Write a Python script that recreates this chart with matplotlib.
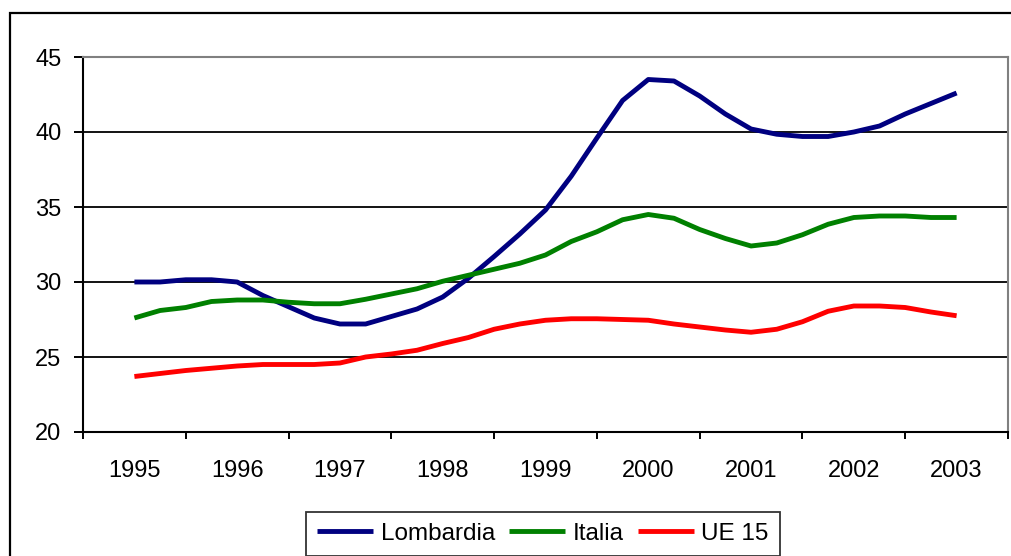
import numpy as np
import matplotlib.pyplot as plt
from matplotlib.patches import Rectangle

plt.rcParams['font.family'] = ['Liberation Sans', 'DejaVu Sans']

years = ['1995', '1996', '1997', '1998', '1999', '2000', '2001', '2002', '2003']

# quarterly values, from 1995 (mid-year) to 2003 (mid-year)
lombardia = [30.0, 30.0, 30.15, 30.15, 30.0, 29.1, 28.35, 27.6, 27.2, 27.2, 27.7,
             28.2, 29.0, 30.25, 31.7, 33.2, 34.8, 37.05, 39.6, 42.1, 43.5, 43.4,
             42.4, 41.2, 40.2, 39.85, 39.7, 39.7, 40.0, 40.4, 41.2, 41.9, 42.6]
italia = [27.6, 28.1, 28.3, 28.7, 28.8, 28.8, 28.65, 28.55, 28.55, 28.85, 29.2,
          29.55, 30.05, 30.45, 30.85, 31.25, 31.8, 32.7, 33.35, 34.15, 34.5, 34.25,
          33.5, 32.9, 32.4, 32.6, 33.15, 33.85, 34.3, 34.4, 34.4, 34.3, 34.3]
ue15 = [23.7, 23.9, 24.1, 24.25, 24.4, 24.5, 24.5, 24.5, 24.6, 25.0, 25.2,
        25.45, 25.9, 26.3, 26.85, 27.2, 27.45, 27.55, 27.55, 27.5, 27.45, 27.2,
        27.0, 26.8, 26.65, 26.85, 27.35, 28.05, 28.4, 28.4, 28.3, 28.0, 27.75]

fig = plt.figure(figsize=(10.11, 5.56), dpi=100)
ax = fig.add_axes([83 / 1011, 1 - 432 / 556, 925 / 1011, 375 / 556])

# outer chart frame
fig.patches.append(Rectangle((10 / 1011, -0.1), 1.2, 1.1 - 13 / 556,
                             transform=fig.transFigure, fill=False,
                             edgecolor='black', linewidth=1.6))

x = 0.5 + np.arange(len(lombardia)) / 4
style = dict(linewidth=3.5, solid_joinstyle='round', solid_capstyle='butt')
ax.plot(x, lombardia, color='#000080', label='Lombardia', **style)
ax.plot(x, italia, color='#008000', label='Italia', **style)
ax.plot(x, ue15, color='#FF0000', label='UE 15', **style)

ax.set_xlim(0, 9)
ax.set_ylim(20, 45)
ax.set_yticks([20, 25, 30, 35, 40, 45])
ax.grid(axis='y', color='black', linewidth=1.3)
ax.set_axisbelow(True)

ax.set_xticks(np.arange(len(years)) + 0.5)
ax.set_xticklabels(years)
ax.set_xticks(np.arange(len(years) + 1), minor=True)
ax.tick_params(axis='x', which='major', length=0, pad=20, labelsize=17)
ax.tick_params(axis='x', which='minor', length=5, width=1.4, direction='out')
ax.tick_params(axis='y', length=6.5, width=1.4, pad=9, labelsize=17)

for side in ['left', 'bottom']:
    ax.spines[side].set_color('black')
    ax.spines[side].set_linewidth(1.5)
for side in ['top', 'right']:
    ax.spines[side].set_color('#808080')
    ax.spines[side].set_linewidth(1.5)

leg = fig.legend(loc='upper center', bbox_to_anchor=(543 / 1011, 1 - 512 / 556),
                 ncol=3, fontsize=17.5, frameon=True, fancybox=False,
                 edgecolor='black', handlelength=2.3, handletextpad=0.3,
                 columnspacing=0.6, borderpad=0.45, borderaxespad=0)
leg.get_frame().set_linewidth(1.3)

fig.savefig('out.png', dpi=100)
